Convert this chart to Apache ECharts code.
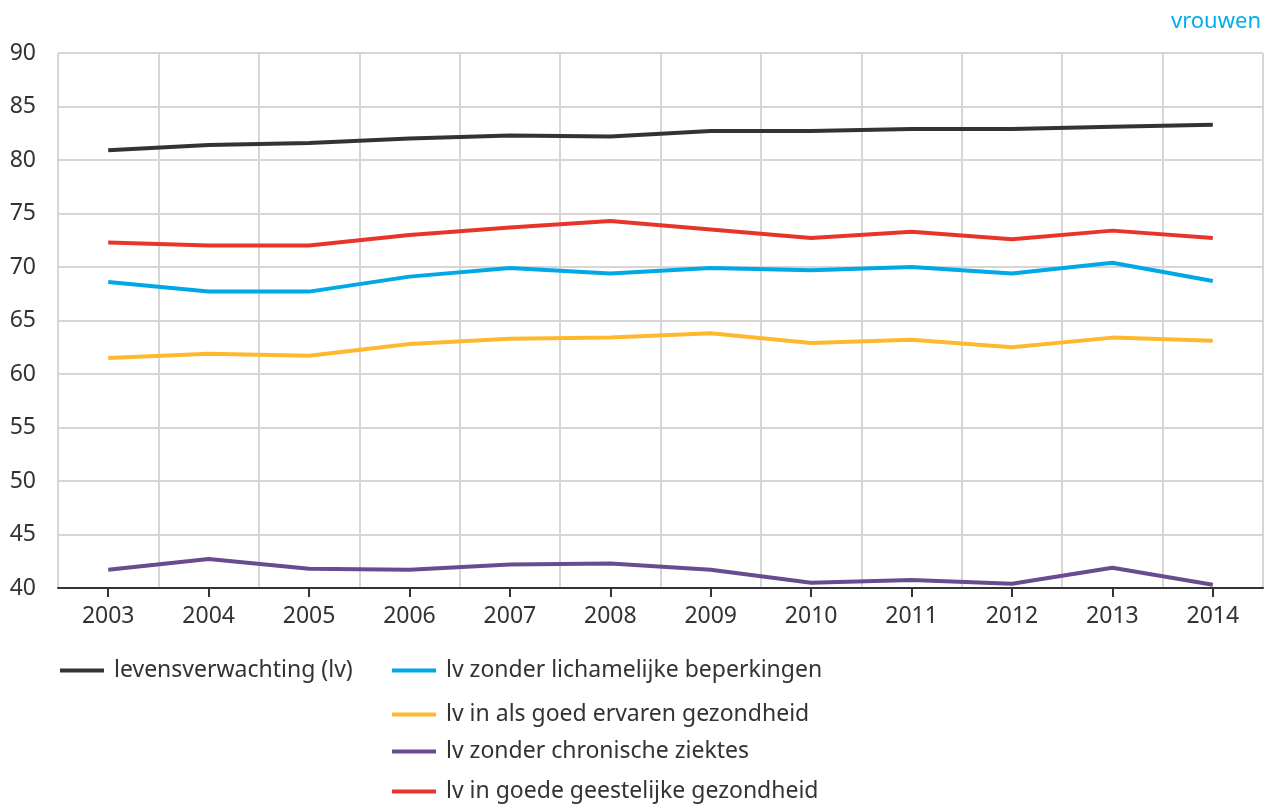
<!DOCTYPE html>
<html>
<head>
<meta charset="utf-8">
<script src="https://cdn.jsdelivr.net/npm/echarts@6/dist/echarts.min.js"></script>
<style>
html,body{margin:0;padding:0;background:#fff;}
#chart{width:1266px;height:806px;}
</style>
</head>
<body>
<div id="chart"></div>
<script>
var years = ['2003','2004','2005','2006','2007','2008','2009','2010','2011','2012','2013','2014'];
var levensverwachting = [80.9,81.4,81.6,82.0,82.3,82.2,82.7,82.7,82.9,82.9,83.1,83.3];
var zonderLichamelijk = [68.6,67.7,67.7,69.1,69.9,69.4,69.9,69.7,70.0,69.4,70.4,68.7];
var goedErvaren = [61.5,61.9,61.7,62.8,63.3,63.4,63.8,62.9,63.2,62.5,63.4,63.1];
var zonderChronisch = [41.7,42.7,41.8,41.7,42.2,42.3,41.7,40.5,40.75,40.4,41.9,40.3];
var geestelijk = [72.3,72.0,72.0,73.0,73.7,74.3,73.5,72.7,73.3,72.6,73.4,72.7];
var yTicks = [40,45,50,55,60,65,70,75,80,85,90];

var names = ['levensverwachting (lv)','lv zonder lichamelijke beperkingen','lv in als goed ervaren gezondheid','lv zonder chronische ziektes','lv in goede geestelijke gezondheid'];
var colors = ['#333333','#00A8E6','#FFB82E','#684C8F','#E8352B'];
var dataSets = [levensverwachting, zonderLichamelijk, goedErvaren, zonderChronisch, geestelijk];
var font = 'Noto Sans';

var legendPos = [
  {left: 55, top: 654},
  {left: 387, top: 654},
  {left: 387, top: 698},
  {left: 387, top: 735},
  {left: 387, top: 775}
];

var chart = echarts.init(document.getElementById('chart'));
var option = {
  animation: false,
  backgroundColor: '#ffffff',
  title: {
    text: 'vrouwen',
    right: 0,
    top: 6,
    textStyle: {color: '#00AEEF', fontFamily: font, fontSize: 22, fontWeight: 'normal'}
  },
  grid: {left: 58, right: 3, top: 53, bottom: 218},
  legend: names.map(function(n, i){
    return {
      data: [n],
      left: legendPos[i].left,
      top: legendPos[i].top,
      icon: 'rect',
      itemWidth: 44,
      itemHeight: 4,
      itemGap: 10,
      textStyle: {fontFamily: font, fontSize: 23, color: '#333333', padding: [0, 0, 0, 5]}
    };
  }),
  xAxis: {
    type: 'category',
    data: years,
    boundaryGap: true,
    axisLine: {show: true, lineStyle: {color: '#333333', width: 2}},
    axisTick: {show: true, alignWithLabel: true, length: 9, lineStyle: {color: '#333333', width: 2}},
    axisLabel: {margin: 17, fontFamily: font, fontSize: 23, color: '#333333'},
    splitLine: {show: true, lineStyle: {color: '#d6d6d6', width: 2}}
  },
  yAxis: {
    type: 'value',
    min: 40,
    max: 90,
    interval: 5,
    axisLine: {show: false},
    axisTick: {show: false},
    axisLabel: {margin: 22, fontFamily: font, fontSize: 23, color: '#333333',
      formatter: function(v){ return yTicks.indexOf(v) >= 0 ? String(v) : ''; }},
    splitLine: {show: true, lineStyle: {color: '#d6d6d6', width: 2}}
  },
  series: names.map(function(n, i){
    return {
      name: n,
      type: 'line',
      data: dataSets[i],
      symbol: 'none',
      lineStyle: {color: colors[i], width: 4},
      itemStyle: {color: colors[i]},
      z: 3
    };
  })
};
chart.setOption(option);
</script>
</body>
</html>
